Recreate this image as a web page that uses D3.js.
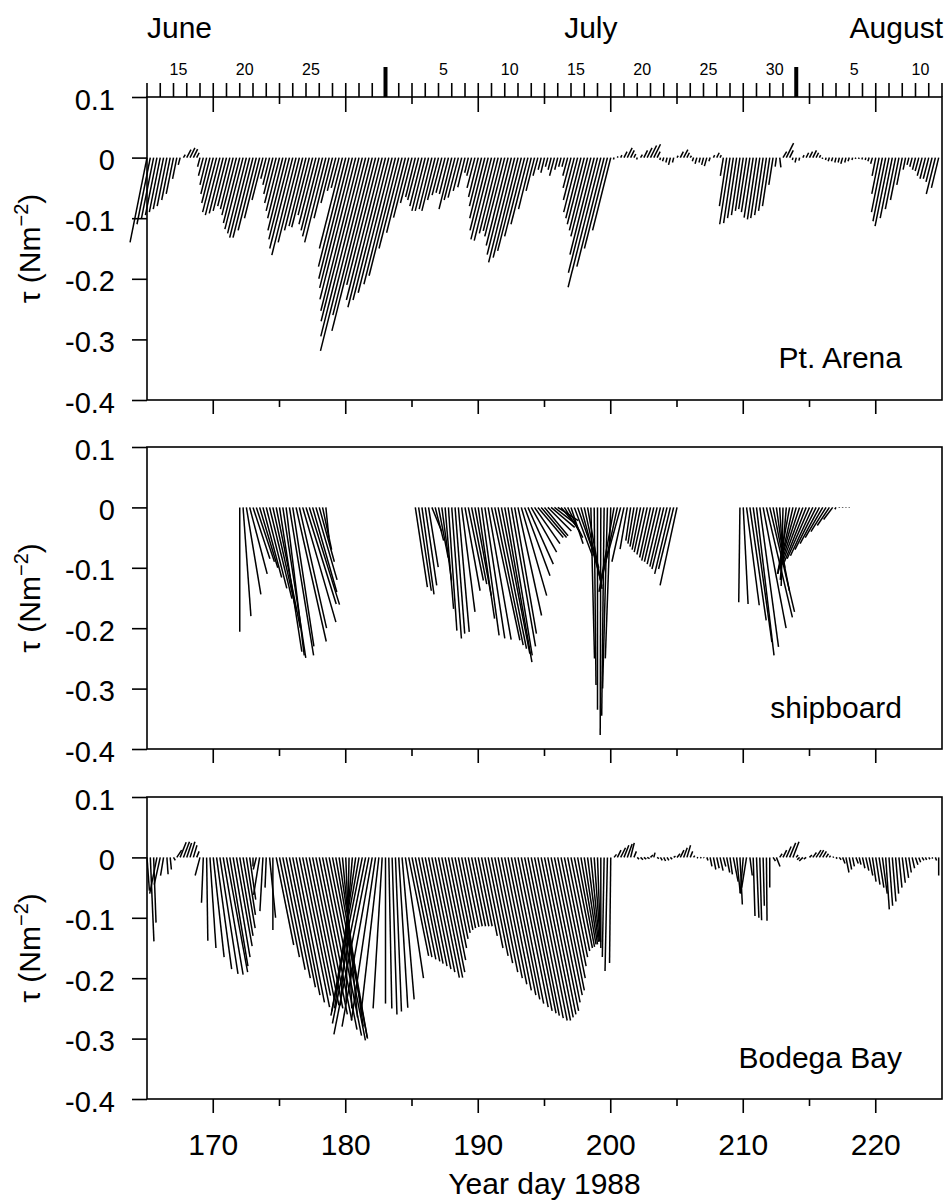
<!DOCTYPE html>
<html><head><meta charset="utf-8">
<script src="https://cdn.jsdelivr.net/npm/d3@7"></script>
<style>
body{margin:0;background:#fff}
svg text{font-family:"Liberation Sans",Arial,Helvetica,sans-serif;fill:#000}
</style>
</head><body>
<svg id="chart" width="948" height="1201"></svg>
<script>
// ---- DATA (wind stress, 6-hourly, values in 10^-3 N m^-2) ----
const stepDays = 0.25;
const arenaStart = 165;
const arenaV = [-140,-110,-100,-95, -90,-85,-80,-70, -60,-35,-12,5, 13,16,14,8, -15,-30,-45,-60, -75,-90,-95,-92, -88,-80,-85,-95, -108,-118,-125,-132, -132,-120,-100,-70, -35,-45,-60,-75, -88,-100,-120,-135, -150,-161,-140,-120, -113,-115,-95,-110, -120,-130,-140,-100, -75,-55,-50,-150, -180,-200,-215,-234, -253,-270,-295,-319, -260,-286,-210,-235, -247,-235,-223,-209, -195,-150,-124,-99, -75,-65,-70,-80, -88,-88,-85,-88, -70,-62,-58,-60, -85,-70,-66,-55, -49,-25,-30,-50, -65,-80,-100,-120, -135,-137,-125,-121, -130,-145,-160,-173, -165,-154,-130,-110, -85,-55,-30,-20, -25,-15,-20,-30, -20,-15,-15,-30, -50,-70,-90,-100, -110,-120,-130,-160, -190,-214,-180,-150, -120,-3,2,4, 10,16,12,6, -3,5,12,16, 20,22,10,-4, -6,-8,-12,-8, 3,10,13,8, 3,-6,-10,-8, -12,-14,-6,4, 8,4,-30,-80, -110,-108,-100,-95, -88,-85,-90,-99, -102,-100,-95,-88, -80,-45,-15,-16, 10,24,12,-4, -8,-5,4,8, 10,12,8,4, -2,-4,-6,-6, -8,-8,-10,-8, -6,-4,-2,-2, -3,-4,-6,-10, -30,-60,-90,-105, -113,-100,-85,-70, -45,-20,-12,-15, -20,-22,-30,-35, -35,-40,-60,-50];
const arenaU = [-28,-22,-20,-19, -18,-17,-16,-14, -12,-7,-3,3, 7,8,7,4, -4,-8,-11,-15, -19,-23,-24,-23, -22,-20,-21,-24, -27,-30,-31,-33, -33,-30,-25,-18, -9,-11,-15,-19, -22,-25,-30,-34, -38,-40,-35,-30, -28,-29,-24,-28, -30,-33,-35,-25, -19,-14,-13,-38, -45,-50,-54,-59, -63,-68,-74,-80, -65,-72,-53,-59, -62,-59,-56,-52, -49,-38,-31,-25, -19,-16,-18,-20, -22,-22,-21,-22, -18,-16,-15,-15, -21,-18,-17,-14, -12,-6,-8,-13, -16,-20,-25,-30, -34,-34,-31,-30, -33,-36,-40,-43, -41,-39,-33,-28, -21,-14,-8,-5, -6,-4,-5,-8, -5,-4,-4,-8, -13,-18,-23,-25, -28,-30,-33,-40, -48,-54,-45,-38, -30,-1,1,2, 5,8,6,3, -1,3,6,8, 10,11,5,-1, -2,-2,-3,-2, 2,5,7,4, 2,-2,-3,-2, -3,-4,-2,2, 4,2,-5,-12, -17,-16,-15,-14, -13,-13,-14,-15, -15,-15,-14,-13, -12,-7,-2,2, 6,12,6,-1, -2,-1,2,4, 5,6,4,2, -1,-1,-2,-2, -2,-2,-3,-2, -2,-1,-1,-1, -1,-1,-2,-3, -6,-12,-18,-21, -23,-20,-17,-14, -9,-4,-3,-4, -5,-6,-8,-9, -9,-10,-15,-12];

const shipStart = 172;
const shipV = [-206,-180,-144,-110, -85,-90,-100,-116, -134,-151,-173,-200, -239,-249,-245,-245, -230,-222,-200,-190, -160,-161,-140,-120, -90,-70,-50,
 null,null,null,null,null,null,null,null,null,null,null,null,null,null,null,null,null,null,null,null,null,null,null,null,null,null,
 -132,-138,-144, -129,-99,-39,-55, -83,-121,-168,-204, -217,-209,-206,-173, -138,-121,-127,-146, -184,-212,-217,-219, -220,-228,-234,-242, -256,-245,-230,-209, -179,-146,-113,-94, -74,-60,-50,-50, -47,-39,-33,-28, -22,-30,-40,-50, -60,-80,-100,-125, -130,-135,-250,-294, -335,-377,-345,-300, -250,-140,-130,-120, -90,-69,-55,-60, -65,-70,-74,-78, -83,-88,-90,-94, -98,-102,-110,-102, -129,
 null,null,null,null,null,null,null,null,null,null,null,null,null,null,null,null,null,null,
 -157, -160,-162,-187,-223, -245,-231,-200,-182, -173,-138,-100,-83, -130,-120,-110,-110, -105,-100,-95,-90, -85,-80,-70,-60, -50,-40,-30,-20, -3,-1,-1,-1, -1];
const shipU = [0,13,24,29, 28,30,30,31, 34,37,39,40, 37,38,30,40, 35,50,45,55, 50,50,40,35, 25,15,5,
 null,null,null,null,null,null,null,null,null,null,null,null,null,null,null,null,null,null,null,null,null,null,null,null,null,null,
 20,21,20, 19,16,16,14, 16,16,14,14, 16,16,18,22, 25,25,25,27, 27,29,33,38, 47,47,47,47, 45,40,40,36, 39,42,42,42, 42,42,42,42, 39,39,39,36, 34,25,25,25, 20,30,35,34, 29,24,6,3, 0,-1,-4,-8, -9,-25,-28,-33, -20,-12,-8,-10, -12,-14,-16,-17, -18,-20,-21,-22, -23,-25,-26,-25, -28,
 null,null,null,null,null,null,null,null,null,null,null,null,null,null,null,null,null,null,
 -2, 8,21,27,31, 29,31,38,43, 41,27,14,5, -3,-10,-20,-25, -30,-33,-35,-36, -37,-37,-35,-32, -29,-25,-20,-15, -2,0,0,0, 0];

const bodegaStart = 165;
const bodegaV = [-55,-139,-108,-60, -45,-30,-28,-20, -5,12,25,26, 24,26,20,10, -30,-75,-138,-150, -165,-185,-193,-194, -190,-180,-165,-147, -130,-117,-95,-70, -15,-20,-62,-89, -50,-100,-120,-145, -165,-186,-200,-215, -228,-240,-248,-229, -235,-245,-250,-260, -270,-285,-295,-303, -300,-298,-280,-265, -250,-240,-245,-250, -255,-262,-275,-293, -280,-270,-262,-250, -242,-250,-260,-255, -249,-235,-200,-163, -165,-169,-172,-176, -180,-185,-190,-199, -199,-190,-170,-150, -135,-125,-120,-117, -115,-114,-114,-114, -114,-130,-150,-163, -175,-190,-200,-210, -220,-228,-235,-242, -248,-254,-258,-262, -266,-270,-270,-265, -260,-254,-240,-228, -220,-200,-180,-165, -155,-150,-148,-144, -144,-140,-139,-139, -140,-150,-165,-188, -175,5,12,16, 20,22,24,10, -3,-4,-3,-2, 4,8,-2,-5, -6,-5,-3,2, 6,12,16,20, 10,3,-1,-1, -1,-5,-15,-20, -18,-22,-15,-25, -28,-40,-59,-78, -60,-50,-30,-97, -100,-104,-80,-105, -50,-6,-15,6, 12,18,24,26, 4,-4,-6,-3, 4,8,12,12, 10,6,3,1, -2,-4,-10,-25, -20,-15,-10,-12, -18,-22,-30,-40, -45,-50,-60,-86, -80,-73,-60,-50, -42,-34,-25,-18, -12,-8,-5,-4, -3,-2,-5,-30];
const bodegaU = [4,6,4,-12, -10,-5,2,2, 3,8,10,10, 8,8,6,4, -8,-3,2,10, 18,25,30,33, 35,30,28,26, 22,20,15,10, 0,-5,-10,-5, -2,10,0,29, 33,37,40,43, 45,47,50,46, 47,49,50,52, 54,57,59,60, 58,52,40,25, 10,-5,-20,-35, -45,-52,-55,-58, -50,-40,-30,-15, 0,5,8,10, 15,20,30,33, 33,34,35,35, 36,37,38,40, 40,38,34,30, 27,25,24,23, 23,23,23,23, 23,26,30,33, 35,38,40,42, 44,46,47,48, 50,51,52,52, 53,54,54,53, 52,51,48,46, 44,40,36,33, 31,30,28,25, 22,18,14,10, 5,0,-3,-4, -2,4,6,8, 8,8,6,4, 3,4,4,4, 4,2,3,3, 3,3,3,3, 5,6,6,6, 4,2,2,2, 1,2,3,4, 4,5,4,5, 4,8,6,4, -5,-8,4,3, 4,3,2,1, 0,4,6,4, 6,8,10,10, 3,-4,-6,-4, 4,6,8,7, 6,4,2,2, 2,3,4,5, 4,3,4,3, 4,5,6,6, 7,8,8,6, 6,6,5,5, 5,5,4,4, 4,3,3,2, 2,1,2,0];

const panelNames = ["Pt. Arena", "shipboard", "Bodega Bay"];
const xDomain = [165, 225];
const xLabelDays = [170, 180, 190, 200, 210, 220];
const yTicks = [0.1, 0, -0.1, -0.2, -0.3, -0.4];
const yTickLabels = ["0.1", "0", "-0.1", "-0.2", "-0.3", "-0.4"];
const monthNames = ["June", "July", "August"];
const monthStartDays = [183, 214];
const domLabels = ["15","20","25","5","10","15","20","25","30","5","10"];
const domDays = [167,172,177,187,192,197,202,207,212,218,223];

// ---- LAYOUT ----
const svg = d3.select("#chart");
const left = 147, right = 942;
const panels = [
  {top: 97, bottom: 400, start: arenaStart, V: arenaV, U: arenaU, name: panelNames[0]},
  {top: 447, bottom: 749, start: shipStart, V: shipV, U: shipU, name: panelNames[1]},
  {top: 797, bottom: 1099, start: bodegaStart, V: bodegaV, U: bodegaU, name: panelNames[2]}
];
const x = d3.scaleLinear().domain(xDomain).range([left, right]);
const allDays = d3.range(xDomain[0], xDomain[1] + 1);
const fiveDays = allDays.filter(d => d % 5 === 0);

panels.forEach(p => {
  const y = d3.scaleLinear().domain([-0.4, 0.1]).range([p.bottom, p.top]);
  const g = svg.append("g");
  const sticks = p.V.map((v, i) => ({day: p.start + i * stepDays, v: v, u: p.U[i]}))
    .filter(d => d.v !== null)
    .map(d => ({day: d.day, v: d.v / 1000, u: d.u / 1000}));
  // sticks: base at (day, 0); u uses the same physical scale as v
  g.append("g").selectAll("line").data(sticks).join("line")
    .attr("x1", d => x(d.day)).attr("y1", y(0))
    .attr("x2", d => x(d.day) + (y(0) - y(d.u)))
    .attr("y2", d => y(d.v))
    .attr("stroke", "#000").attr("stroke-width", 1.5);

  // frame
  g.append("rect").attr("x", left).attr("y", p.top)
    .attr("width", right - left).attr("height", p.bottom - p.top)
    .attr("fill", "none").attr("stroke", "#000").attr("stroke-width", 1.6);

  // y axis
  const yAxis = d3.axisLeft(y).tickValues(yTicks).tickSize(15).tickPadding(17)
    .tickFormat((d, i) => yTickLabels[i]);
  const ya = g.append("g").attr("transform", `translate(${left},0)`).call(yAxis);
  ya.select(".domain").remove();
  ya.selectAll("line").attr("stroke-width", 1.6);
  ya.selectAll("text").attr("font-size", 29).attr("dy", "0.42em")
    .style("font-family", '"Liberation Sans",Arial,sans-serif');

  // bottom ticks
  g.append("g").selectAll("line").data(fiveDays.filter(d => d > xDomain[0] && d < xDomain[1])).join("line")
    .attr("x1", d => x(d)).attr("x2", d => x(d))
    .attr("y1", p.bottom).attr("y2", d => p.bottom + (d % 10 === 0 ? 14 : 7))
    .attr("stroke", "#000").attr("stroke-width", 1.6);

  // y title
  const yt = g.append("text")
    .attr("transform", `translate(40,${(p.top + p.bottom) / 2}) rotate(-90)`)
    .attr("text-anchor", "middle").attr("font-size", 30);
  yt.append("tspan").text("\u03c4 (Nm");
  yt.append("tspan").attr("dy", -12).attr("font-size", 20).text("\u22122");
  yt.append("tspan").attr("dy", 12).text(")");

  // panel name
  g.append("text").attr("x", 902).attr("y", p.top + 271)
    .attr("text-anchor", "end").attr("font-size", 30).text(p.name);
});

// top calendar axis
const topY = panels[0].top;
const ta = svg.append("g");
ta.selectAll("line.d").data(allDays).join("line").attr("class", "d")
  .attr("x1", d => x(d)).attr("x2", d => x(d))
  .attr("y1", topY).attr("y2", topY - 14)
  .attr("stroke", "#000").attr("stroke-width", 1.6);
ta.selectAll("line.in").data(fiveDays.filter(d => d > xDomain[0] && d < xDomain[1])).join("line").attr("class", "in")
  .attr("x1", d => x(d)).attr("x2", d => x(d))
  .attr("y1", topY).attr("y2", d => topY + (d % 10 === 0 ? 15 : 7))
  .attr("stroke", "#000").attr("stroke-width", 1.6);
ta.selectAll("rect").data(monthStartDays).join("rect")
  .attr("x", d => x(d) - 2).attr("y", topY - 30).attr("width", 4).attr("height", 30)
  .attr("fill", "#000");
ta.selectAll("text.dom").data(domDays).join("text").attr("class", "dom")
  .attr("x", d => x(d) + 5).attr("y", 75).attr("text-anchor", "middle")
  .attr("font-size", 16).text((d, i) => domLabels[i]);
ta.append("text").attr("x", x(165)).attr("y", 38).attr("font-size", 30).text(monthNames[0]);
ta.append("text").attr("x", x(198.5)).attr("y", 38).attr("text-anchor", "middle").attr("font-size", 30).text(monthNames[1]);
ta.append("text").attr("x", right + 1).attr("y", 38).attr("text-anchor", "end").attr("font-size", 30).text(monthNames[2]);

// bottom x labels
const bot = panels[2].bottom;
svg.append("g").selectAll("text").data(xLabelDays).join("text")
  .attr("x", d => x(d)).attr("y", bot + 56).attr("text-anchor", "middle")
  .attr("font-size", 30).text(d => d);
svg.append("text").attr("x", x(195)).attr("y", 1194).attr("text-anchor", "middle")
  .attr("font-size", 30).text("Year day 1988");
</script>
</body></html>
